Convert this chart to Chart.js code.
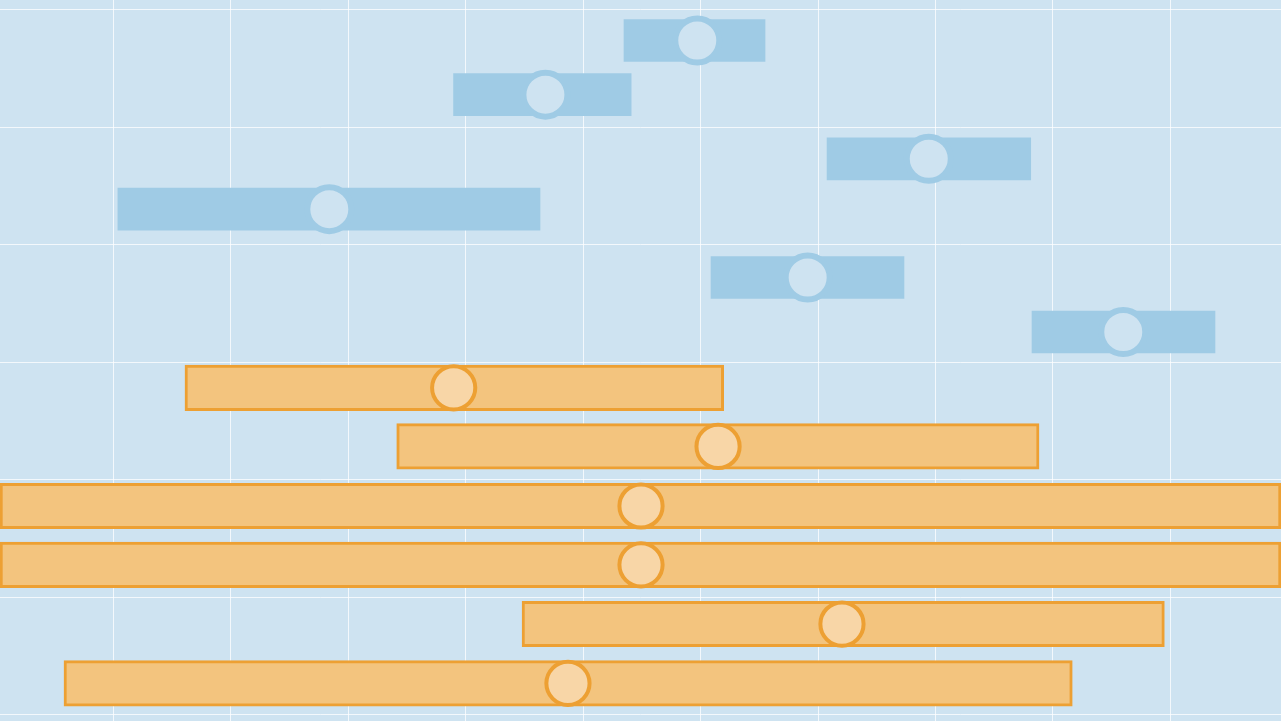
<!DOCTYPE html>
<html>
<head>
<meta charset="utf-8">
<script src="https://cdn.jsdelivr.net/npm/chart.js@4/dist/chart.umd.min.js"></script>
<style>
  html, body { margin: 0; padding: 0; background: #cee3f1; overflow: hidden; }
  #wrap { position: relative; width: 1281px; height: 721px; }
</style>
</head>
<body>
<div id="wrap"><canvas id="c"></canvas></div>
<script>
// Axis ranges and ticks
const xRange = [0.353, 109.42];
const yRange = [9.464, 70.85];
const tickStep = 10;

// Blue series (rows, ranges and markers)
const blueRow   = [67.40, 62.79, 57.33, 53.04, 47.22, 42.58];
const blueLow   = [53.48, 38.97, 70.77, 10.39, 60.89, 88.22];
const blueHigh  = [65.49, 54.09, 88.11, 46.33, 77.32, 103.80];
const bluePoint = [59.72, 46.79, 79.43, 28.39, 69.12, 95.99];

// Orange series (rows, ranges and markers)
const orangeRow   = [37.83, 32.84, 27.77, 22.76, 17.72, 12.67];
const orangeLow   = [16.10, 34.13, 0.353, 0.353, 44.80, 5.80];
const orangeHigh  = [61.97, 88.82, 109.42, 109.42, 99.49, 91.65];
const orangePoint = [38.98, 61.49, 54.93, 54.93, 72.04, 48.71];

const BG = '#cee3f1';
const BLUE = '#9fcbe5';
const ORANGE_FILL = '#f3c47e';
const ORANGE_LINE = '#eda033';
const ORANGE_DOT = '#f8d6a7';

const bgPlugin = {
  id: 'bg',
  beforeDraw(chart) {
    const ctx = chart.ctx;
    ctx.save();
    ctx.fillStyle = BG;
    ctx.fillRect(0, 0, chart.width, chart.height);
    ctx.restore();
  }
};

const blueBars = blueRow.map((y, i) => ({ x: [blueLow[i], blueHigh[i]], y }));
const orangeBars = orangeRow.map((y, i) => ({ x: [orangeLow[i], orangeHigh[i]], y }));
const blueDots = blueRow.map((y, i) => ({ x: bluePoint[i], y }));
const orangeDots = orangeRow.map((y, i) => ({ x: orangePoint[i], y }));

new Chart(document.getElementById('c'), {
  type: 'bar',
  plugins: [bgPlugin],
  data: {
    datasets: [
      {
        type: 'scatter',
        data: blueDots,
        order: 0,
        clip: false,
        pointRadius: 22,
        pointHoverRadius: 22,
        pointBorderWidth: 6,
        pointBackgroundColor: BG,
        pointBorderColor: BLUE
      },
      {
        type: 'scatter',
        data: orangeDots,
        order: 0,
        clip: false,
        pointRadius: 21.6,
        pointHoverRadius: 21.6,
        pointBorderWidth: 4,
        pointBackgroundColor: ORANGE_DOT,
        pointBorderColor: ORANGE_LINE
      },
      {
        type: 'bar',
        data: blueBars,
        order: 1,
        grouped: false,
        barThickness: 42,
        backgroundColor: BLUE,
        borderWidth: 0,
        borderSkipped: false
      },
      {
        type: 'bar',
        data: orangeBars,
        order: 1,
        grouped: false,
        barThickness: 45.5,
        backgroundColor: ORANGE_FILL,
        borderColor: ORANGE_LINE,
        borderWidth: 3,
        borderSkipped: false
      }
    ]
  },
  options: {
    indexAxis: 'y',
    responsive: true,
    maintainAspectRatio: false,
    animation: false,
    layout: { padding: 0, autoPadding: false },
    plugins: {
      legend: { display: false },
      tooltip: { enabled: false },
      title: { display: false }
    },
    events: [],
    scales: {
      x: {
        type: 'linear',
        min: xRange[0],
        max: xRange[1],
        bounds: 'ticks',
        offset: false,
        ticks: { display: false, stepSize: tickStep, includeBounds: false },
        grid: { color: 'rgba(255,255,255,0.75)', lineWidth: 1, drawTicks: false, offset: false },
        border: { display: false }
      },
      y: {
        type: 'linear',
        min: yRange[0],
        max: yRange[1],
        bounds: 'ticks',
        offset: false,
        ticks: { display: false, stepSize: tickStep, includeBounds: false },
        grid: { color: 'rgba(255,255,255,0.75)', lineWidth: 1, drawTicks: false, offset: false },
        border: { display: false }
      }
    }
  }
});
</script>
</body>
</html>
